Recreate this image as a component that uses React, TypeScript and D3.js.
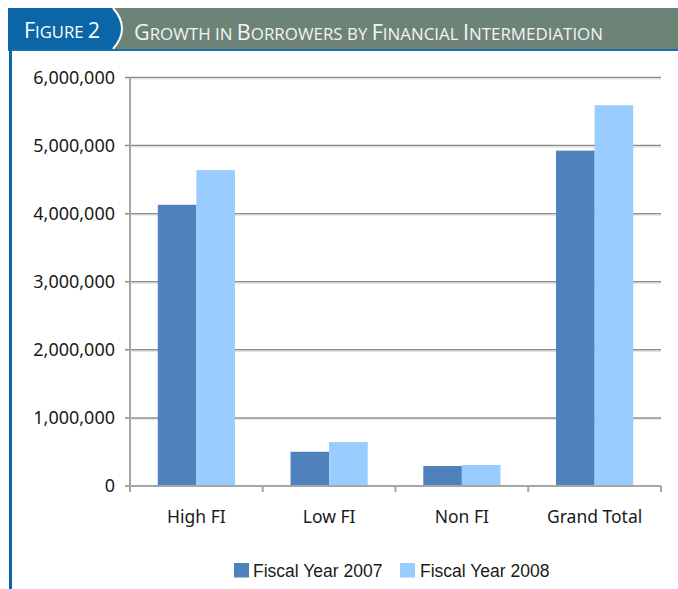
import React from "react";
import * as d3 from "d3";

const categories = ["High FI", "Low FI", "Non FI", "Grand Total"];
const seriesNames = ["Fiscal Year 2007", "Fiscal Year 2008"];
const fy2007 = [4130000, 503000, 293000, 4926000];
const fy2008 = [4640000, 645000, 308000, 5593000];
const yTicks = [0, 1000000, 2000000, 3000000, 4000000, 5000000, 6000000];
const seriesColors = ["#4F81BD", "#99CCFF"];

const figureLabel = [
  { t: "F", big: true },
  { t: "IGURE ", big: false },
  { t: "2", big: true },
];
const titleParts = [
  { t: "G", big: true },
  { t: "ROWTH IN ", big: false },
  { t: "B", big: true },
  { t: "ORROWERS BY ", big: false },
  { t: "F", big: true },
  { t: "INANCIAL ", big: false },
  { t: "I", big: true },
  { t: "NTERMEDIATION", big: false },
];

const W = 678;
const H = 589;
const plot = { left: 130, right: 661, top: 77.5, bottom: 486 };

export default function App() {
  const x0 = d3.scaleBand<string>().domain(categories).range([plot.left, plot.right]).padding(0);
  const x1 = d3
    .scaleBand<string>()
    .domain(seriesNames)
    .range([0, x0.bandwidth()])
    .paddingInner(0)
    .paddingOuter(0.72);
  const y = d3.scaleLinear().domain([0, 6000000]).range([plot.bottom, plot.top]);
  const fmt = d3.format(",");
  const values = [fy2007, fy2008];

  const tickFont = "'Noto Sans', 'Open Sans', sans-serif";
  const headFont = "'Open Sans', 'Noto Sans', sans-serif";

  const legendItems = [
    { name: seriesNames[0], sx: 234, tx: 253, color: seriesColors[0] },
    { name: seriesNames[1], sx: 400, tx: 420, color: seriesColors[1] },
  ];

  return (
    <svg
      width={W}
      height={H}
      style={{ position: "fixed", left: 0, top: 0, background: "#fff" }}
    >
      {/* header band */}
      <rect x={8} y={8} width={W - 8} height={41} fill="#6E8377" />
      <path d="M8,8 L113,8 Q131,28.5 113,49 L8,49 Z" fill="#0B66A8" />
      <path d="M113,8 Q131,28.5 113,49" fill="none" stroke="#ffffff" strokeWidth={2} />
      <rect x={8} y={49} width={W - 8} height={2} fill="#1A6FB0" />
      <rect x={9} y={49} width={3} height={H - 49} fill="#0B66A8" />

      <text
        x={24}
        y={38}
        fill="#ffffff"
        fontFamily={headFont}
        textLength={76}
        lengthAdjust="spacingAndGlyphs"
      >
        {figureLabel.map((p, i) => (
          <tspan key={i} fontSize={p.big ? 22 : 17}>
            {p.t}
          </tspan>
        ))}
      </text>
      <text
        x={134}
        y={40}
        fill="#F4F4F4"
        fontFamily={headFont}
        textLength={469}
        lengthAdjust="spacingAndGlyphs"
      >
        {titleParts.map((p, i) => (
          <tspan key={i} fontSize={p.big ? 21 : 16.5}>
            {p.t}
          </tspan>
        ))}
      </text>

      {/* gridlines */}
      {yTicks.slice(1).map((t) => (
        <g key={t}>
          <line x1={plot.left - 5} x2={plot.right} y1={y(t)} y2={y(t)} stroke="#8C8C8C" strokeWidth={1.5} />
          <line x1={plot.left} x2={plot.right} y1={y(t) + 1.5} y2={y(t) + 1.5} stroke="#E0E0E0" strokeWidth={1} />
        </g>
      ))}

      {/* bars */}
      {categories.map((c, ci) => (
        <g key={c} transform={`translate(${x0(c)},0)`}>
          {seriesNames.map((s, si) => (
            <rect
              key={s}
              x={x1(s)}
              y={y(values[si][ci])}
              width={x1.bandwidth()}
              height={plot.bottom - y(values[si][ci])}
              fill={seriesColors[si]}
            />
          ))}
        </g>
      ))}

      {/* axes */}
      <line x1={plot.left} x2={plot.left} y1={plot.top} y2={plot.bottom + 6} stroke="#A6A6A6" strokeWidth={2} />
      <line x1={plot.left - 5} x2={plot.right} y1={plot.bottom} y2={plot.bottom} stroke="#A6A6A6" strokeWidth={2} />
      {categories.map((c) => (
        <line
          key={c}
          x1={(x0(c) as number) + x0.bandwidth()}
          x2={(x0(c) as number) + x0.bandwidth()}
          y1={plot.bottom}
          y2={plot.bottom + 6}
          stroke="#A6A6A6"
          strokeWidth={2}
        />
      ))}

      {/* y tick labels */}
      {yTicks.map((t) => (
        <text
          key={t}
          x={115}
          y={y(t)}
          dy="0.35em"
          textAnchor="end"
          fontSize={18}
          fontFamily={tickFont}
          fill="#1a1a1a"
        >
          {fmt(t)}
        </text>
      ))}

      {/* x labels */}
      {categories.map((c) => (
        <text
          key={c}
          x={(x0(c) as number) + x0.bandwidth() / 2}
          y={523}
          textAnchor="middle"
          fontSize={17.5}
          fontFamily={tickFont}
          fill="#1a1a1a"
        >
          {c}
        </text>
      ))}

      {/* legend */}
      {legendItems.map((l) => (
        <g key={l.name}>
          <rect x={l.sx} y={563} width={15} height={14.5} fill={l.color} />
          <text
            x={l.tx}
            y={576.5}
            fontSize={17.5}
            fontFamily="'Liberation Sans', Arial, sans-serif"
            fill="#1a1a1a"
          >
            {l.name}
          </text>
        </g>
      ))}
    </svg>
  );
}
